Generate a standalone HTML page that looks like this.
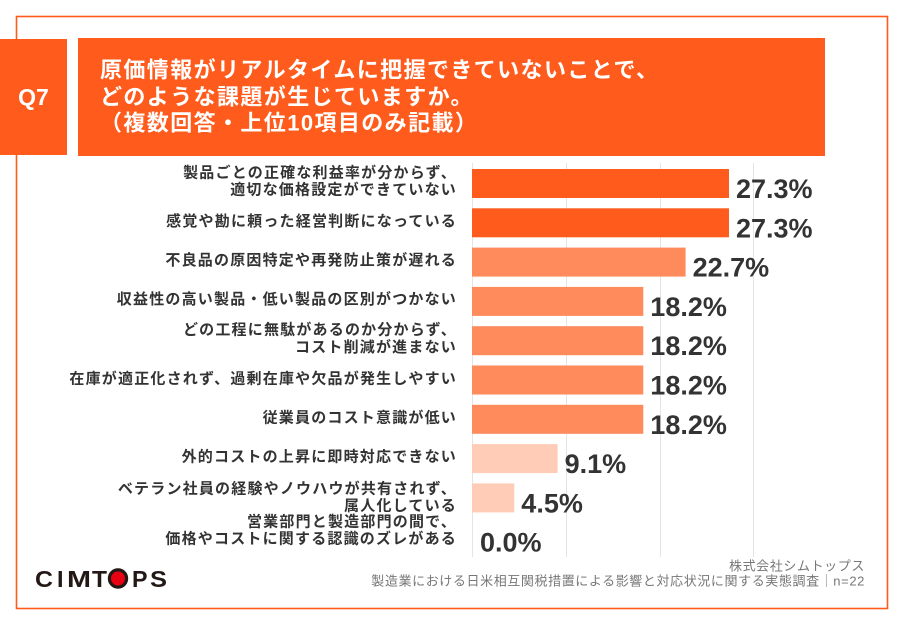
<!DOCTYPE html>
<html>
<head>
<meta charset="utf-8">
<style>
html,body{margin:0;padding:0;background:#fff;}
body{width:904px;height:624px;overflow:hidden;}
svg{display:block;}
.jp{font-family:"Liberation Sans","Noto Sans CJK JP",sans-serif;}
</style>
</head>
<body>
<svg width="904" height="624" viewBox="0 0 904 624" xmlns="http://www.w3.org/2000/svg">
  <rect x="0" y="0" width="904" height="624" fill="#fff"/>
  <!-- outer frame -->
  <rect x="16.5" y="16.5" width="871" height="592" fill="none" stroke="#FF5B1C" stroke-width="1.6"/>
  <!-- Q7 box -->
  <rect x="0" y="39" width="67" height="116" fill="#FF5B1C"/>
  <text x="33.5" y="105" text-anchor="middle" font-family="Liberation Sans, sans-serif" font-weight="bold" font-size="23" fill="#fff">Q7</text>
  <!-- title box -->
  <rect x="78" y="38" width="747" height="118" fill="#FF5B1C"/>
  <g class="jp" font-weight="bold" font-size="22" fill="#fff" letter-spacing="1.4" dominant-baseline="central">
    <text x="100" y="70">原価情報がリアルタイムに把握できていないことで、</text>
    <text x="100" y="97">どのような課題が生じていますか。</text>
    <text x="100" y="123">（複数回答・上位10項目のみ記載）</text>
  </g>

  <!-- gridlines -->
  <g stroke="#E4E4E4" stroke-width="1">
    <line x1="472.5" y1="163" x2="472.5" y2="557"/>
    <line x1="566.5" y1="163" x2="566.5" y2="557"/>
    <line x1="660.5" y1="163" x2="660.5" y2="557"/>
    <line x1="753.5" y1="163" x2="753.5" y2="557"/>
  </g>

  <!-- bars -->
  <g>
    <rect x="472" y="169" width="257" height="29" fill="#FF5B1C"/>
    <rect x="472" y="208.3" width="257" height="29" fill="#FF5B1C"/>
    <rect x="472" y="247.6" width="213.6" height="29" fill="#FF8A5C"/>
    <rect x="472" y="286.9" width="171.3" height="29" fill="#FF8A5C"/>
    <rect x="472" y="326.2" width="171.3" height="29" fill="#FF8A5C"/>
    <rect x="472" y="365.5" width="171.3" height="29" fill="#FF8A5C"/>
    <rect x="472" y="404.8" width="171.3" height="29" fill="#FF8A5C"/>
    <rect x="472" y="444.1" width="85.6" height="29" fill="#FFCDB7"/>
    <rect x="472" y="483.4" width="42.3" height="29" fill="#FFCDB7"/>
  </g>

  <!-- values -->
  <g font-family="Liberation Sans, sans-serif" font-weight="bold" font-size="27" fill="#333">
    <text x="736" y="198">27.3%</text>
    <text x="736" y="237.3">27.3%</text>
    <text x="692.6" y="276.6">22.7%</text>
    <text x="650.3" y="315.9">18.2%</text>
    <text x="650.3" y="355.2">18.2%</text>
    <text x="650.3" y="394.5">18.2%</text>
    <text x="650.3" y="433.8">18.2%</text>
    <text x="564.6" y="473.1">9.1%</text>
    <text x="521.3" y="512.4">4.5%</text>
    <text x="480" y="551.7">0.0%</text>
  </g>

  <!-- category labels -->
  <g class="jp" font-weight="bold" font-size="15" fill="#333" letter-spacing="1.2" text-anchor="end" dominant-baseline="central">
    <text x="457" y="173">製品ごとの正確な利益率が分からず、</text>
    <text x="457" y="190">適切な価格設定ができていない</text>
    <text x="457" y="221.5">感覚や勘に頼った経営判断になっている</text>
    <text x="457" y="260.5">不良品の原因特定や再発防止策が遅れる</text>
    <text x="457" y="299.5">収益性の高い製品・低い製品の区別がつかない</text>
    <text x="457" y="330">どの工程に無駄があるのか分からず、</text>
    <text x="457" y="347.5">コスト削減が進まない</text>
    <text x="457" y="379">在庫が適正化されず、過剰在庫や欠品が発生しやすい</text>
    <text x="457" y="418">従業員のコスト意識が低い</text>
    <text x="457" y="457">外的コストの上昇に即時対応できない</text>
    <text x="457" y="489">ベテラン社員の経験やノウハウが共有されず、</text>
    <text x="457" y="506">属人化している</text>
    <text x="457" y="522">営業部門と製造部門の間で、</text>
    <text x="457" y="539">価格やコストに関する認識のズレがある</text>
  </g>

  <!-- footer -->
  <g class="jp" font-size="13" fill="#777" text-anchor="end" letter-spacing="0.6" dominant-baseline="central">
    <text x="865" y="566">株式会社シムトップス</text>
    <text x="865" y="581">製造業における日米相互関税措置による影響と対応状況に関する実態調査｜n=22</text>
  </g>

  <!-- logo -->
  <g font-family="Liberation Sans, sans-serif" font-weight="bold" font-size="23" fill="#231815">
    <text x="35" y="587" textLength="18" lengthAdjust="spacingAndGlyphs">C</text>
    <text x="57" y="587" textLength="6.5" lengthAdjust="spacingAndGlyphs">I</text>
    <text x="67" y="587" textLength="24" lengthAdjust="spacingAndGlyphs">M</text>
    <text x="92" y="587" textLength="15" lengthAdjust="spacingAndGlyphs">T</text>
    <text x="132" y="587" textLength="15.5" lengthAdjust="spacingAndGlyphs">P</text>
    <text x="150" y="587" textLength="17" lengthAdjust="spacingAndGlyphs">S</text>
  </g>
  <circle cx="118" cy="578.5" r="8.6" fill="#E60012" stroke="#231815" stroke-width="3.2"/>
</svg>
</body>
</html>
